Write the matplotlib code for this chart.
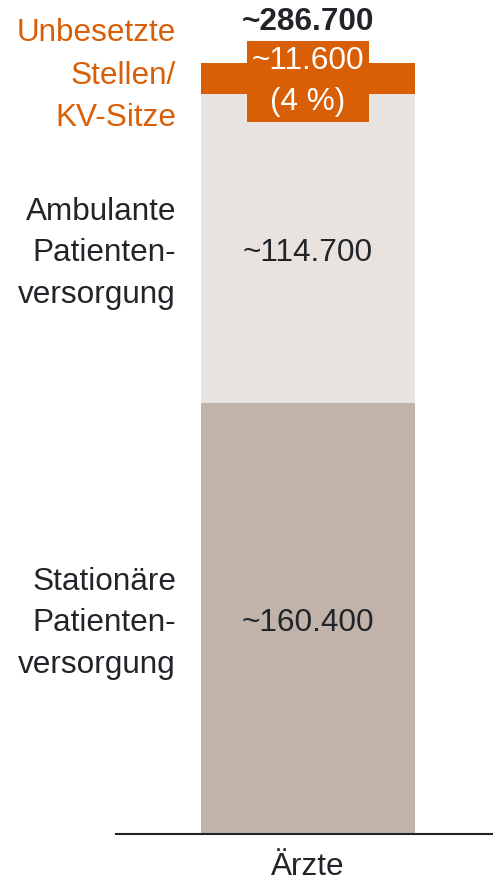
import numpy as np
import matplotlib.pyplot as plt

plt.rcParams['font.family'] = ['Liberation Sans', 'DejaVu Sans']

# Daten: Ärzte nach Versorgungsbereich
kategorie = 'Ärzte'
segmente = ['Stationäre\nPatienten-\nversorgung', 'Ambulante\nPatienten-\nversorgung',
            'Unbesetzte\nStellen/\nKV-Sitze']
werte = [160400, 114700, 11600]
wert_labels = ['~160.400', '~114.700', '~11.600\n(4 %)']
gesamt = 286700
gesamt_label = '~286.700'

farben = ['#c1b3aa', '#e8e3df', '#d95f07']
text_dunkel = '#212428'
orange = '#d95f07'

fig = plt.figure(figsize=(4.93, 8.82), dpi=100)
# Achse: links bei 116px, Grundlinie 48px ueber dem Rand
ax = fig.add_axes([116 / 493, 48 / 882, 1 - 116 / 493, 1 - 48 / 882])

breite = 0.6
px_pro_einheit = 214 / breite
ax.set_xlim(-192 / px_pro_einheit, 185 / px_pro_einheit)
ax.set_ylim(0, gesamt * 834 / 771)

label_x = -0.37
fs = 22.7
unten = 0
for i, (w, f) in enumerate(zip(werte, farben)):
    ax.bar(0, w, width=breite, bottom=unten, color=f, linewidth=0)
    mitte = unten + w / 2
    if i < 2:
        ax.annotate(wert_labels[i], (0, mitte), xytext=(0, -3.5), textcoords='offset points',
                    ha='center', va='center', fontsize=fs, color=text_dunkel)
        ax.annotate(segmente[i], (label_x, mitte), xytext=(0, -3.5), textcoords='offset points',
                    ha='right', va='center', fontsize=fs, color=text_dunkel, linespacing=1.5)
    else:
        ax.annotate(wert_labels[i], (0, mitte), xytext=(0, -2), textcoords='offset points',
                    ha='center', va='center', fontsize=fs, color='white', linespacing=1.5,
                    bbox=dict(boxstyle='square,pad=0.16', fc=orange, ec='none'))
        ax.annotate(segmente[i], (label_x, mitte), xytext=(0, 2),
                    textcoords='offset points', ha='right', va='center',
                    fontsize=fs, color=orange, linespacing=1.55)
    unten += w

ax.annotate(gesamt_label, (0, gesamt), xytext=(0, 24), textcoords='offset points',
            ha='center', va='baseline', fontsize=fs, fontweight='bold', color=text_dunkel)

ax.set_xticks([0])
ax.set_xticklabels([kategorie], fontsize=fs, color=text_dunkel)
ax.tick_params(axis='x', length=0, pad=13)
ax.set_yticks([])
for s in ['top', 'right', 'left']:
    ax.spines[s].set_visible(False)
ax.spines['bottom'].set_color(text_dunkel)
ax.spines['bottom'].set_linewidth(1.5)
ax.patch.set_alpha(0)

fig.savefig('out.png', dpi=100)
